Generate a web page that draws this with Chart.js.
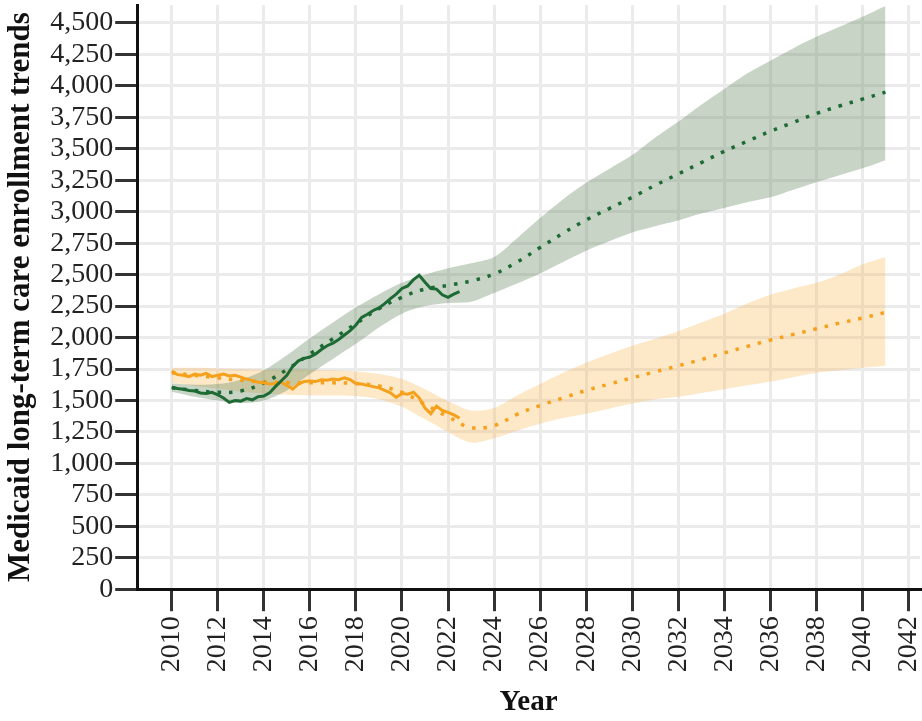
<!DOCTYPE html>
<html>
<head>
<meta charset="utf-8">
<script src="https://cdn.jsdelivr.net/npm/chart.js@4.4.1/dist/chart.umd.min.js"></script>
<style>
  html, body { margin: 0; padding: 0; background: #fff; }
  #wrap { width: 922px; height: 721px; }
</style>
</head>
<body>
<div id="wrap"><canvas id="enrollment-chart" width="922" height="721"></canvas></div>
<script>
// observed series, quarterly from 2010.0 to 2022.5
const obsStart = 2010;
const obsStep = 0.25;
const greenObserved = [1605, 1595, 1590, 1580, 1575, 1560, 1555, 1565, 1545, 1520, 1485, 1500, 1495, 1515, 1505, 1530,
    1535, 1560, 1610, 1655, 1700, 1770, 1815, 1835, 1845, 1870, 1905, 1935, 1955, 1985, 2020, 2055,
    2100, 2160, 2185, 2215, 2235, 2270, 2310, 2345, 2390, 2410, 2460, 2495, 2440, 2390, 2385, 2340,
    2320, 2345, 2365];
const orangeObserved = [1735, 1705, 1700, 1690, 1710, 1700, 1715, 1690, 1700, 1710, 1695, 1700, 1685, 1670, 1660, 1645,
    1640, 1630, 1635, 1645, 1620, 1590, 1630, 1650, 1655, 1650, 1665, 1660, 1670, 1665, 1680, 1665,
    1635, 1630, 1620, 1610, 1600, 1580, 1560, 1525, 1555, 1550, 1565, 1520, 1440, 1395, 1455, 1420,
    1405, 1385, 1360];

// trend + band, yearly 2010..2041
const trendYears = [2010, 2011, 2012, 2013, 2014, 2015, 2016, 2017, 2018, 2019, 2020, 2021, 2022, 2023, 2024, 2025,
    2026, 2027, 2028, 2029, 2030, 2031, 2032, 2033, 2034, 2035, 2036, 2037, 2038, 2039, 2040, 2041];
const greenTrend = [1600, 1580, 1565, 1575, 1640, 1745, 1870, 1990, 2110, 2230, 2320, 2385, 2415, 2450, 2505, 2600,
    2715, 2830, 2935, 3025, 3115, 3210, 3300, 3390, 3480, 3560, 3640, 3710, 3780, 3840, 3895, 3950];
const greenUpper = [1635, 1625, 1630, 1665, 1740, 1860, 1995, 2120, 2240, 2345, 2435, 2500, 2550, 2590, 2640, 2790,
    2950, 3100, 3230, 3340, 3450, 3590, 3715, 3850, 3975, 4100, 4200, 4300, 4390, 4470, 4550, 4635];
const greenLower = [1570, 1530, 1500, 1480, 1500, 1580, 1710, 1830, 1950, 2080, 2190, 2250, 2275, 2285, 2355, 2430,
    2510, 2600, 2690, 2765, 2835, 2885, 2930, 2985, 3030, 3075, 3115, 3175, 3235, 3290, 3345, 3410];
const orangeTrend = [1720, 1700, 1680, 1660, 1648, 1642, 1640, 1640, 1635, 1615, 1565, 1470, 1370, 1285, 1300, 1390,
    1460, 1520, 1580, 1630, 1680, 1728, 1775, 1825, 1878, 1930, 1980, 2025, 2070, 2115, 2155, 2200];
const orangeUpper = [1760, 1760, 1755, 1750, 1745, 1745, 1745, 1740, 1730, 1710, 1670, 1590, 1495, 1420, 1440, 1540,
    1630, 1720, 1800, 1870, 1935, 1990, 2050, 2120, 2190, 2270, 2340, 2390, 2435, 2500, 2580, 2640];
const orangeLower = [1640, 1615, 1595, 1570, 1555, 1545, 1540, 1540, 1535, 1510, 1450, 1350, 1250, 1165, 1200, 1260,
    1315, 1360, 1395, 1435, 1475, 1510, 1530, 1560, 1590, 1620, 1650, 1685, 1720, 1740, 1760, 1775];

const xTicks = [2010, 2012, 2014, 2016, 2018, 2020, 2022, 2024, 2026, 2028, 2030, 2032, 2034, 2036, 2038, 2040, 2042];
const yTicks = [0, 250, 500, 750, 1000, 1250, 1500, 1750, 2000, 2250, 2500, 2750, 3000, 3250, 3500, 3750, 4000, 4250, 4500];

const GREEN = '#1d6a35';
const ORANGE = '#f5a11c';

function pairs(xs, ys) {
    return ys.map((v, i) => ({ x: xs[i], y: v }));
}
const obsYears = greenObserved.map((_, i) => obsStart + i * obsStep);

const font = 'Liberation Serif';

// no extra room for the end labels, the plot runs right up to the axes
function noEdgePadding(scale) {
    scale.paddingLeft = 0;
    scale.paddingRight = 0;
    scale.paddingTop = 0;
    scale.paddingBottom = 0;
}

const ctx = document.getElementById('enrollment-chart');
new Chart(ctx, {
    type: 'line',
    data: {
        datasets: [
            {
                data: pairs(obsYears, greenObserved),
                borderColor: GREEN,
                borderWidth: 3,
                pointRadius: 0,
                tension: 0,
                fill: false
            },
            {
                data: pairs(obsYears, orangeObserved),
                borderColor: ORANGE,
                borderWidth: 3,
                pointRadius: 0,
                tension: 0,
                fill: false
            },
            {
                data: pairs(trendYears, greenTrend),
                borderColor: GREEN,
                borderWidth: 3.5,
                borderDash: [3.5, 8],
                pointRadius: 0,
                tension: 0.4,
                fill: false
            },
            {
                data: pairs(trendYears, orangeTrend),
                borderColor: ORANGE,
                borderWidth: 3.5,
                borderDash: [3.5, 8],
                pointRadius: 0,
                tension: 0.4,
                fill: false
            },
            {
                data: pairs(trendYears, greenUpper),
                borderWidth: 0,
                borderColor: 'rgba(0,0,0,0)',
                backgroundColor: 'rgba(98, 135, 92, 0.35)',
                pointRadius: 0,
                tension: 0.3,
                fill: '+1'
            },
            {
                data: pairs(trendYears, greenLower),
                borderWidth: 0,
                borderColor: 'rgba(0,0,0,0)',
                pointRadius: 0,
                tension: 0.3,
                fill: false
            },
            {
                data: pairs(trendYears, orangeUpper),
                borderWidth: 0,
                borderColor: 'rgba(0,0,0,0)',
                backgroundColor: 'rgba(248, 178, 72, 0.3)',
                pointRadius: 0,
                tension: 0.3,
                fill: '+1'
            },
            {
                data: pairs(trendYears, orangeLower),
                borderWidth: 0,
                borderColor: 'rgba(0,0,0,0)',
                pointRadius: 0,
                tension: 0.3,
                fill: false
            }
        ]
    },
    options: {
        responsive: false,
        animation: false,
        layout: {
            padding: { top: 5, right: 2, bottom: 0, left: 2 }
        },
        scales: {
            x: {
                type: 'linear',
                min: 2008.5,
                max: 2042.5,
                afterBuildTicks: (scale) => { scale.ticks = xTicks.map(v => ({ value: v })); },
                afterFit: noEdgePadding,
                ticks: {
                    autoSkip: false,
                    maxRotation: 90,
                    minRotation: 90,
                    padding: 5,
                    color: '#222',
                    font: { family: font, size: 28 },
                    callback: (v) => String(v)
                },
                grid: {
                    color: '#ebebec',
                    lineWidth: 3,
                    tickColor: '#333',
                    tickWidth: 3,
                    tickLength: 22
                },
                border: { color: '#111', width: 3 },
                title: {
                    display: true,
                    text: 'Year',
                    color: '#111',
                    font: { family: font, size: 29, weight: 'bold' },
                    padding: { top: 8, bottom: 1 }
                }
            },
            y: {
                min: 0,
                max: 4643,
                afterBuildTicks: (scale) => { scale.ticks = yTicks.map(v => ({ value: v })); },
                afterFit: noEdgePadding,
                ticks: {
                    autoSkip: false,
                    padding: 2,
                    color: '#222',
                    font: { family: font, size: 28 },
                    callback: (v) => v.toLocaleString('en-US')
                },
                grid: {
                    color: '#ebebec',
                    lineWidth: 3,
                    tickColor: '#333',
                    tickWidth: 3,
                    tickLength: 22
                },
                border: { color: '#111', width: 3 },
                title: {
                    display: true,
                    text: 'Medicaid long-term care enrollment trends',
                    color: '#111',
                    font: { family: font, size: 31, weight: 'bold' },
                    padding: { top: 0, bottom: 9 }
                }
            }
        },
        plugins: {
            legend: { display: false },
            tooltip: { enabled: false }
        }
    }
});
</script>
</body>
</html>
